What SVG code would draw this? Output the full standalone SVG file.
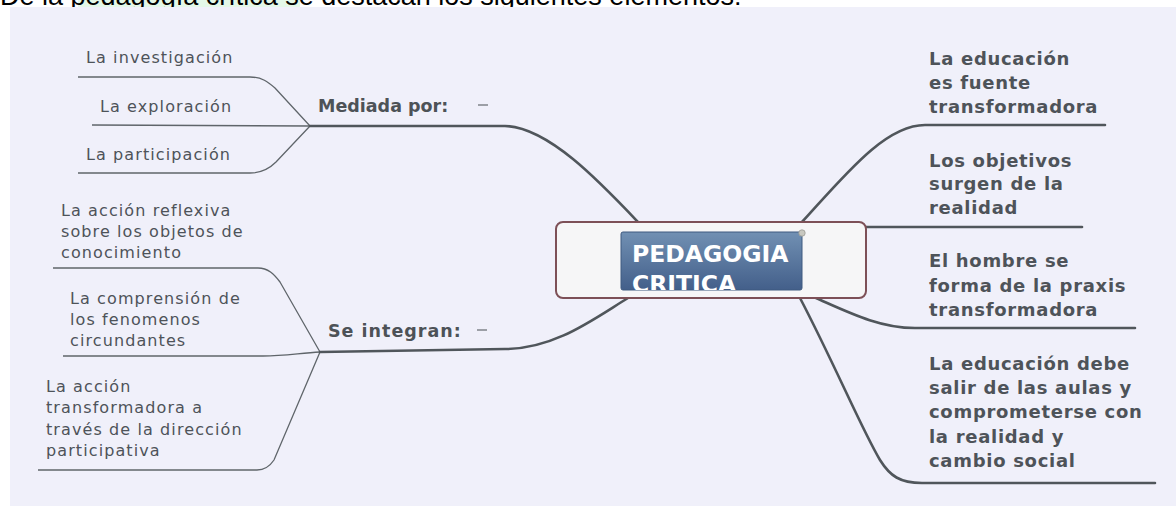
<svg xmlns="http://www.w3.org/2000/svg" width="1176" height="506" viewBox="0 0 1176 506">
<style>
.cap{font-family:"Liberation Sans",Arial,sans-serif;font-size:27px;fill:#000}
.sub{font-family:"DejaVu Sans",Verdana,sans-serif;font-size:16px;fill:#4e5359;letter-spacing:1.1px}
.mid{font-family:"DejaVu Sans",Verdana,sans-serif;font-size:17.5px;font-weight:bold;fill:#4d5257}
.rt{font-family:"DejaVu Sans",Verdana,sans-serif;font-size:18px;font-weight:bold;fill:#4e5359;letter-spacing:0.7px}
.thin{fill:none;stroke:#5f656a;stroke-width:1.3}
.thick{fill:none;stroke:#50565b;stroke-width:2.6;stroke-linecap:round}
.dash{stroke:#80858a;stroke-width:1.5}
</style>
<defs>
<linearGradient id="blue" x1="0" y1="0" x2="0" y2="1">
<stop offset="0" stop-color="#7190b3"/>
<stop offset="1" stop-color="#435f8a"/>
</linearGradient>
<clipPath id="innerClip"><rect x="621" y="232" width="181" height="58"/></clipPath>
</defs>
<rect x="0" y="0" width="1176" height="506" fill="#ffffff"/>
<rect x="78" y="0" width="222" height="7" fill="#e4f8e8"/>
<text class="cap" x="0" y="5">De la pedagogía crítica se destacan los siguientes elementos:</text>
<rect x="10" y="7" width="1166" height="499" fill="#f0f0fa"/>

<g id="connectors">
<path class="thin" d="M78 77 L250 77 C262 77 268 82 275 88 L310 126"/>
<path class="thin" d="M92 125 L310 126"/>
<path class="thin" d="M78 173 L250 173 C262 173 270 168 276 162 L310 126"/>
<path class="thin" d="M53 268 L258 268 C268 268 274 274 280 282 L320 352"/>
<path class="thin" d="M63 356 L263 356 C285 356 300 353 320 352"/>
<path class="thin" d="M38 470 L257 470 C265 470 270 466 274 460 L320 352"/>
<path class="thick" d="M310 126 L505 126 C548 127 600 182 638 222"/>
<path class="thick" d="M320 352 L505 349 C555 349 595 318 628 298"/>
<path class="thick" d="M802 222 C845 175 885 125 925 125 L1105 125"/>
<path class="thick" d="M866 227 L1082 227"/>
<path class="thick" d="M816 298 C850 313 880 328 915 328 L1135 328"/>
<path class="thick" d="M800 298 C835 365 862 430 880 460 C890 476 900 483 922 483 L1155 483"/>
</g>

<g id="center">
<rect x="556" y="222" width="310" height="76" rx="7" fill="#f6f6f7" stroke="#7d5057" stroke-width="2"/>
<rect x="621" y="232" width="181" height="58" rx="2" fill="url(#blue)" stroke="#3f5a80" stroke-width="1"/>
<g clip-path="url(#innerClip)" font-family="DejaVu Sans,Verdana,sans-serif" font-weight="bold" font-size="23.5" fill="#ffffff">
<text x="632" y="262">PEDAGOGIA</text>
<text x="632" y="292">CRITICA</text>
</g>
<circle cx="802" cy="233" r="3.2" fill="#c8c8c0" stroke="#9a9a94" stroke-width="0.8"/>
</g>

<g id="mediada">
<text class="mid" x="318" y="112">Mediada por:</text>
<line class="dash" x1="478" y1="105" x2="488" y2="105"/>
</g>
<g id="investigacion"><text class="sub" x="86" y="63">La investigación</text></g>
<g id="exploracion"><text class="sub" x="100" y="112">La exploración</text></g>
<g id="participacion"><text class="sub" x="86" y="160">La participación</text></g>

<g id="integran">
<text class="mid" x="328" y="337" letter-spacing="1">Se integran:</text>
<line class="dash" x1="477" y1="330" x2="487" y2="330"/>
</g>
<g id="reflexiva"><text class="sub" x="61" y="216">La acción reflexiva<tspan x="61" y="237">sobre los objetos de</tspan><tspan x="61" y="258">conocimiento</tspan></text></g>
<g id="comprension"><text class="sub" x="70" y="304">La comprensión de<tspan x="70" y="325">los fenomenos</tspan><tspan x="70" y="346">circundantes</tspan></text></g>
<g id="transformadora"><text class="sub" x="46" y="392">La acción<tspan x="46" y="413">transformadora a</tspan><tspan x="46" y="435">través de la dirección</tspan><tspan x="46" y="456">participativa</tspan></text></g>

<g id="fuente"><text class="rt" x="929" y="65">La educación<tspan x="929" y="89">es fuente</tspan><tspan x="929" y="113">transformadora</tspan></text></g>
<g id="objetivos"><text class="rt" x="929" y="167">Los objetivos<tspan x="929" y="190">surgen de la</tspan><tspan x="929" y="214">realidad</tspan></text></g>
<g id="hombre"><text class="rt" x="929" y="267">El hombre se<tspan x="929" y="292">forma de la praxis</tspan><tspan x="929" y="316">transformadora</tspan></text></g>
<g id="social"><text class="rt" x="929" y="370">La educación debe<tspan x="929" y="394">salir de las aulas y</tspan><tspan x="929" y="418">comprometerse con</tspan><tspan x="929" y="443">la realidad y</tspan><tspan x="929" y="467">cambio social</tspan></text></g>
</svg>
